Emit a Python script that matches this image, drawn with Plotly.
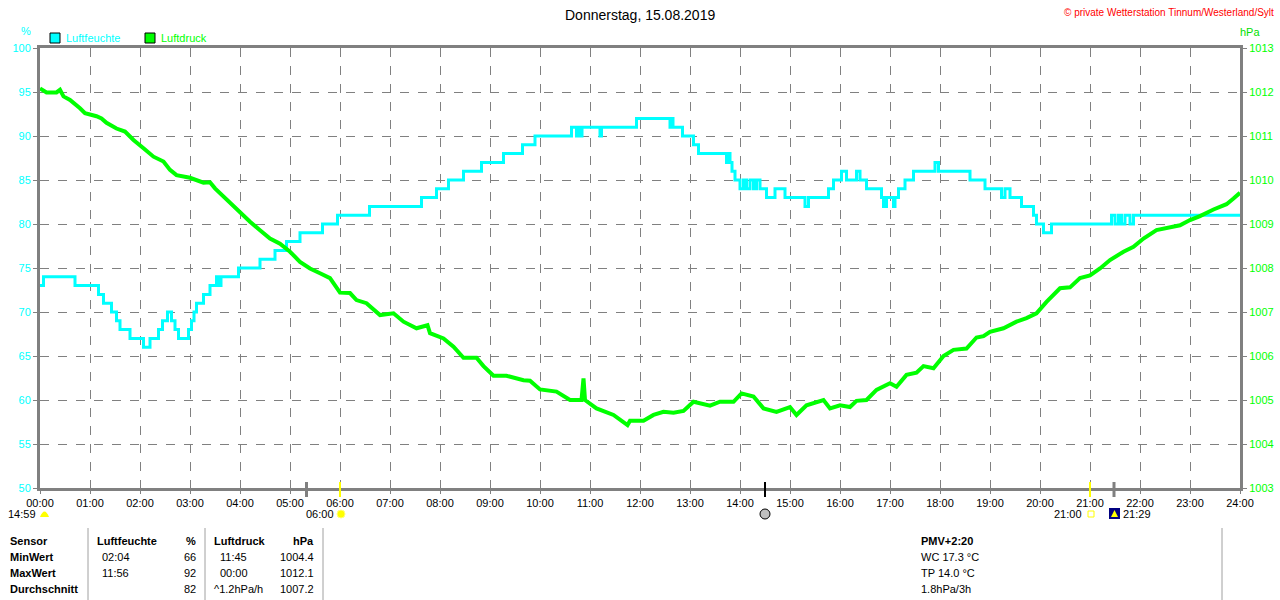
import plotly.graph_objects as go

# Luftfeuchte (%) - Stufenwerte, Zeit in Stunden
hum_t = [0, 0.07, 0.7, 1.17, 1.27, 1.43, 1.53, 1.6, 1.8, 2.07, 2.2, 2.37, 2.45, 2.55, 2.63,
         2.7, 2.77, 2.97, 3.03, 3.08, 3.13, 3.27, 3.4, 3.53, 3.58, 3.62, 3.97, 4.4, 4.7, 4.93,
         5.2, 5.65, 5.95, 6.59, 7.63, 7.93, 8.17, 8.47, 8.83, 9.27, 9.65, 9.9, 10.63, 10.73,
         10.76, 10.8, 10.84, 11.2, 11.23, 11.93, 12.6, 12.63, 12.66, 12.85, 13.07, 13.17,
         13.73, 13.77, 13.8, 13.84, 13.9, 14.0, 14.07, 14.13, 14.2, 14.27, 14.33, 14.4, 14.53,
         14.7, 14.9, 15.3, 15.37, 15.77, 15.87, 16.03, 16.13, 16.33, 16.4, 16.53, 16.83, 16.87,
         16.93, 17.07, 17.1, 17.17, 17.3, 17.47, 17.67, 17.9, 17.97, 18.6, 18.9, 19.23, 19.3,
         19.4, 19.47, 19.63, 19.87, 19.93, 20.07, 20.23, 21.43, 21.5, 21.57, 21.63, 21.7, 21.8,
         21.87, 24.0]
hum_v = [73, 74, 73, 72, 71, 70, 69, 68, 67, 66, 67, 68, 69, 70, 69,
         68, 67, 68, 69, 70, 71, 72, 73, 74, 73, 74, 75, 76, 77, 78,
         79, 80, 81, 82, 83, 84, 85, 86, 87, 88, 89, 90, 91, 90,
         91, 90, 91, 90, 91, 92, 91, 92, 91, 90, 89, 88,
         87, 88, 87, 86, 85, 84, 85, 84, 85, 84, 85, 84, 83,
         84, 83, 82, 83, 84, 85, 86, 85, 86, 85, 84, 83, 82,
         83, 82, 83, 84, 85, 86, 86, 87, 86, 85, 84, 83, 84,
         83, 83, 82, 81, 80, 79, 80, 81, 80, 81, 80, 81, 80,
         81, 81]

# Luftdruck (hPa)
pres_t = [0, 0.13, 0.33, 0.4, 0.47, 0.6, 0.8, 0.9, 1.13, 1.23, 1.33, 1.53, 1.7, 1.87, 2.07,
          2.27, 2.47, 2.6, 2.73, 3.0, 3.27, 3.4, 3.5, 3.6, 3.8, 4.0, 4.2, 4.4, 4.6, 4.8, 5.0,
          5.2, 5.4, 5.6, 5.8, 6.0, 6.2, 6.33, 6.53, 6.8, 7.07, 7.27, 7.53, 7.75, 7.8, 8.07,
          8.27, 8.47, 8.73, 8.87, 9.07, 9.33, 9.67, 9.8, 10.0, 10.33, 10.6, 10.83, 10.87, 10.9,
          11.13, 11.47, 11.75, 11.8, 12.07, 12.27, 12.47, 12.67, 12.87, 13.07, 13.2, 13.4,
          13.6, 13.87, 14.03, 14.27, 14.47, 14.73, 15.0, 15.13, 15.33, 15.67, 15.8, 16.0,
          16.2, 16.33, 16.53, 16.73, 17.0, 17.13, 17.33, 17.53, 17.67, 17.87, 18.07, 18.27,
          18.53, 18.73, 18.87, 19.0, 19.27, 19.53, 19.73, 19.93, 20.13, 20.4, 20.6, 20.8,
          21.0, 21.2, 21.4, 21.67, 21.87, 22.07, 22.33, 22.6, 22.8, 23.0, 23.2, 23.47, 23.73,
          23.87, 24.0]
pres_v = [1012.08, 1011.99, 1011.99, 1012.05, 1011.9, 1011.82, 1011.63, 1011.52, 1011.45,
          1011.40, 1011.30, 1011.17, 1011.10, 1010.91, 1010.72, 1010.53, 1010.42, 1010.23,
          1010.11, 1010.05, 1009.94, 1009.95, 1009.81, 1009.70, 1009.51, 1009.28, 1009.05,
          1008.86, 1008.67, 1008.55, 1008.37, 1008.14, 1007.99, 1007.88, 1007.77, 1007.44,
          1007.43, 1007.27, 1007.20, 1006.93, 1006.97, 1006.78, 1006.63, 1006.70, 1006.52,
          1006.40, 1006.21, 1005.96, 1005.96, 1005.77, 1005.55, 1005.55, 1005.45, 1005.44,
          1005.24, 1005.19, 1005.00, 1005.00, 1005.49, 1005.00, 1004.81, 1004.66, 1004.43,
          1004.53, 1004.53, 1004.66, 1004.73, 1004.71, 1004.75, 1004.96, 1004.93, 1004.87,
          1004.96, 1004.96, 1005.15, 1005.08, 1004.81, 1004.73, 1004.84, 1004.66, 1004.88,
          1005.00, 1004.81, 1004.88, 1004.84, 1004.98, 1005.00, 1005.23, 1005.38, 1005.30,
          1005.57, 1005.62, 1005.77, 1005.72, 1006.00, 1006.14, 1006.17, 1006.42, 1006.45,
          1006.55, 1006.63, 1006.78, 1006.86, 1006.97, 1007.23, 1007.54, 1007.56, 1007.77,
          1007.83, 1007.99, 1008.18, 1008.37, 1008.48, 1008.67, 1008.86, 1008.92, 1008.97,
          1009.09, 1009.18, 1009.33, 1009.45, 1009.58, 1009.71]

hour_ticks = list(range(25))
hour_labels = ['%02d:00' % h for h in hour_ticks]
hum_ticks = [50, 55, 60, 65, 70, 75, 80, 85, 90, 95, 100]
pres_ticks = list(range(1003, 1014))

# Ereignisse unter der Zeitachse (Stunden)
event_t = [5.33, 6.0, 14.5, 21.0, 21.48]
event_col = ['#808080', '#ffff00', '#000000', '#ffff00', '#808080']
event_w = [3, 2, 2, 2, 3]

# Tabelle
row_names = ['Sensor', 'MinWert', 'MaxWert', 'Durchschnitt']
hum_time = ['Luftfeuchte', '02:04', '11:56', '']
hum_val = ['%', '66', '92', '82']
pres_time = ['Luftdruck', '11:45', '00:00', '^1.2hPa/h']
pres_val = ['hPa', '1004.4', '1012.1', '1007.2']
extra = ['PMV+2:20', 'WC 17.3 °C', 'TP 14.0 °C', '1.8hPa/3h']

FONT = 'Liberation Sans, Arial, sans-serif'
L, R, T, B = 40, 40, 48, 112
W, H = 1280, 600
PW, PH = W - L - R, H - T - B


def px(x):
    return (x - L) / PW


def py(y):
    return (H - B - y) / PH


fig = go.Figure()
fig.add_trace(go.Scatter(x=hum_t, y=hum_v, mode='lines', line_shape='hv',
                         line=dict(color='#00ffff', width=3), name='Luftfeuchte'))
fig.add_trace(go.Scatter(x=pres_t, y=pres_v, mode='lines', yaxis='y2',
                         line=dict(color='#00ff00', width=4), name='Luftdruck'))

shapes = []
for t, c, w in zip(event_t, event_col, event_w):
    shapes.append(dict(type='line', xref='x', yref='paper', x0=t, x1=t,
                       y0=py(482), y1=py(497), line=dict(color=c, width=w)))
# Tabellenlinien
for x in [88, 205, 323, 1222]:
    shapes.append(dict(type='line', xref='paper', yref='paper', x0=px(x), x1=px(x),
                       y0=py(528), y1=py(600), line=dict(color='#a0a0a0', width=1)))
# Legendenkästchen
for x, c in [(50, '#00ffff'), (145, '#00ff00')]:
    shapes.append(dict(type='rect', xref='paper', yref='paper', x0=px(x), x1=px(x + 10),
                       y0=py(33), y1=py(43), fillcolor=c, line=dict(color='black', width=1)))
# Symbole
shapes.append(dict(type='path', xref='paper', yref='paper',
                   path='M %f %f Q %f %f %f %f Z' % (px(40), py(517), px(44.5), py(506), px(49), py(517)),
                   fillcolor='#ffff00', line=dict(color='#ffff00', width=0)))
shapes.append(dict(type='circle', xref='paper', yref='paper', x0=px(337), x1=px(345),
                   y0=py(510), y1=py(518), fillcolor='#ffff00', line=dict(color='#ffff80', width=1)))
shapes.append(dict(type='circle', xref='paper', yref='paper', x0=px(760), x1=px(770),
                   y0=py(509), y1=py(519), fillcolor='#c0c0c0', line=dict(color='black', width=1)))
shapes.append(dict(type='rect', xref='paper', yref='paper', x0=px(1088), x1=px(1094),
                   y0=py(511), y1=py(517), line=dict(color='#ffff00', width=1)))
shapes.append(dict(type='rect', xref='paper', yref='paper', x0=px(1109), x1=px(1120),
                   y0=py(508), y1=py(519), fillcolor='#000080', line=dict(width=0)))
shapes.append(dict(type='path', xref='paper', yref='paper',
                   path='M %f %f L %f %f L %f %f Z' % (px(1111), py(517), px(1114.5), py(510), px(1118), py(517)),
                   fillcolor='#ffff00', line=dict(width=0)))

ann = []


def txt(x, y, s, color='black', size=11, anchor='left', bold=False):
    if bold:
        s = '<b>' + s + '</b>'
    ann.append(dict(xref='paper', yref='paper', x=px(x), y=py(y), text=s, showarrow=False,
                    xanchor=anchor, yanchor='middle', font=dict(family=FONT, size=size, color=color)))


txt(640, 15, 'Donnerstag, 15.08.2019', size=14, anchor='center')
txt(1276, 12, '© private Wetterstation Tinnum/Westerland/Sylt', color='#ff0000', size=10, anchor='right')
txt(26, 31, '%', color='#00ffff', size=11, anchor='center')
txt(1250, 32, 'hPa', color='#00e000', size=11, anchor='center')
txt(64, 38, 'Luftfeuchte', color='#00ffff', size=11)
txt(159, 38, 'Luftdruck', color='#00ff00', size=11)

txt(38, 514, '14:59', anchor='right')
txt(336, 514, '06:00', anchor='right')
txt(1084, 514, '21:00', anchor='right')
txt(1121, 514, '21:29')

rows_y = [541, 557, 573, 589]
for i, y in enumerate(rows_y):
    head = i == 0
    txt(8, y, row_names[i], bold=True)
    txt(95 if head else 100, y, hum_time[i], bold=head)
    txt(198, y, hum_val[i], anchor='right', bold=head)
    txt(212 if (head or i == 3) else 218, y, pres_time[i], bold=head)
    txt(316, y, pres_val[i], anchor='right', bold=head)
    txt(919, y, extra[i], bold=head)

fig.update_layout(
    width=W, height=H, autosize=False,
    margin=dict(l=L, r=R, t=T, b=B, pad=0),
    paper_bgcolor='white', plot_bgcolor='white',
    showlegend=False,
    font=dict(family=FONT, size=11, color='black'),
    xaxis=dict(range=[0, 24], tickvals=hour_ticks, ticktext=hour_labels, automargin=False,
               showgrid=True, gridcolor='#808080', griddash='dash', gridwidth=1,
               showline=True, linecolor='#808080', linewidth=3, mirror=True,
               ticks='outside', ticklen=3, tickcolor='#808080',
               tickfont=dict(family=FONT, size=11, color='black'), zeroline=False),
    yaxis=dict(range=[50, 100], tickvals=hum_ticks, automargin=False,
               showgrid=True, gridcolor='#808080', griddash='dash', gridwidth=1,
               showline=True, linecolor='#808080', linewidth=3,
               ticks='outside', ticklen=4, tickcolor='#808080',
               tickfont=dict(family=FONT, size=11, color='#00ffff'), zeroline=False),
    yaxis2=dict(range=[1003, 1013], tickvals=pres_ticks, overlaying='y', side='right',
                automargin=False,
                showgrid=False, showline=True, linecolor='#808080', linewidth=3,
                ticks='outside', ticklen=4, tickcolor='#808080',
                tickfont=dict(family=FONT, size=11, color='#00ff00'), zeroline=False),
    shapes=shapes,
    annotations=ann,
)

# Seitenrand des Browsers entfernen, damit die Grafik bei (0,0) beginnt
fig.write_html('out.html', config={'displayModeBar': False},
               post_script="document.body.style.margin='0';document.body.style.overflow='hidden';")
